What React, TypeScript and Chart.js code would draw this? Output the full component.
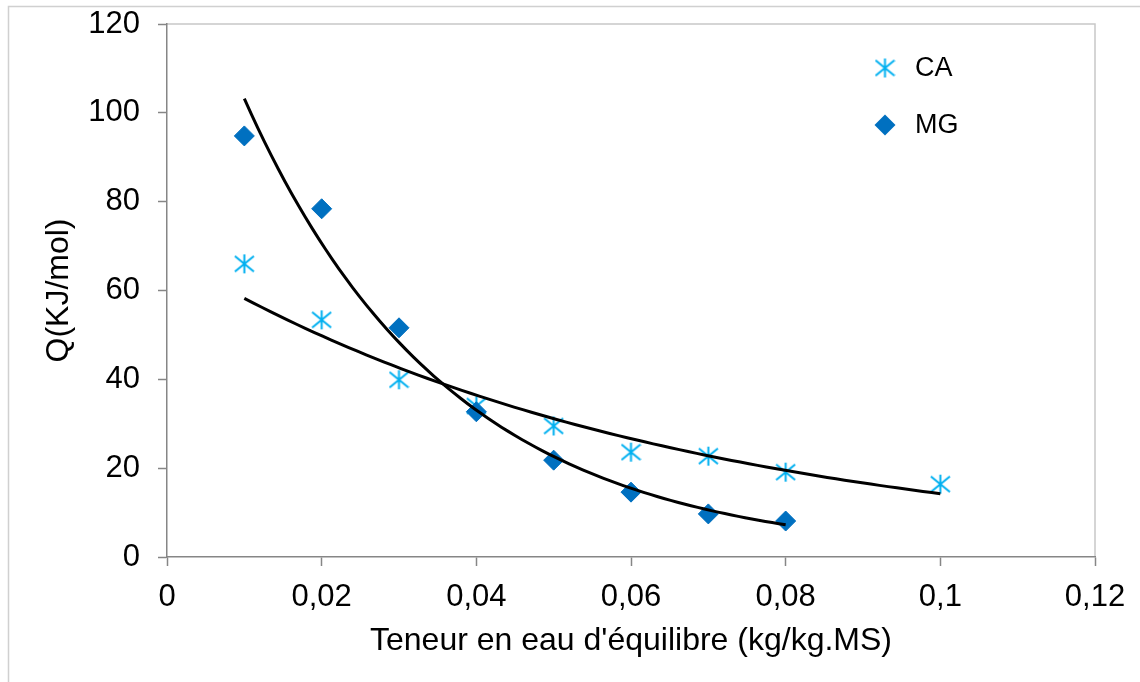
import React, { useEffect, useRef } from 'react';
import { Chart, registerables } from 'chart.js';

Chart.register(...registerables);

// ---- data ----
const caX = [0.01, 0.02, 0.03, 0.04, 0.05, 0.06, 0.07, 0.08, 0.1];
const caY = [66.0, 53.4, 39.9, 34.0, 29.5, 23.6, 22.7, 19.1, 16.4];
const mgX = [0.01, 0.02, 0.03, 0.04, 0.05, 0.06, 0.07, 0.08];
const mgY = [94.8, 78.4, 51.6, 32.7, 21.8, 14.6, 9.7, 8.1];
const seriesNames = ['CA', 'MG'];
const xTickLabels = ['0', '0,02', '0,04', '0,06', '0,08', '0,1', '0,12'];
const yTickLabels = ['0', '20', '40', '60', '80', '100', '120'];
const xTitle = "Teneur en eau d'équilibre (kg/kg.MS)";
const yTitle = 'Q(KJ/mol)';

const FONT = "'Liberation Sans', Arial, sans-serif";
const CA_COLOR = '#00B0F0';
const MG_COLOR = '#0070C0';

// Excel-style exponential trendline: least squares on ln(y)
function expFit(xs: number[], ys: number[]) {
  const n = xs.length;
  const ly = ys.map((v) => Math.log(v));
  const mx = xs.reduce((a, b) => a + b, 0) / n;
  const my = ly.reduce((a, b) => a + b, 0) / n;
  let sxx = 0, sxy = 0;
  for (let i = 0; i < n; i++) {
    sxx += (xs[i] - mx) ** 2;
    sxy += (xs[i] - mx) * (ly[i] - my);
  }
  const b = sxy / sxx;
  const a = Math.exp(my - b * mx);
  return { a, b };
}

function trendPoints(xs: number[], ys: number[]) {
  const { a, b } = expFit(xs, ys);
  const x0 = Math.min(...xs);
  const x1 = Math.max(...xs);
  const steps = 80;
  const pts: { x: number; y: number }[] = [];
  for (let i = 0; i <= steps; i++) {
    const x = x0 + ((x1 - x0) * i) / steps;
    pts.push({ x, y: a * Math.exp(b * x) });
  }
  return pts;
}

function makeStar(size: number, color: string) {
  const c = document.createElement('canvas');
  c.width = size;
  c.height = size;
  const ctx = c.getContext('2d')!;
  const m = size / 2;
  const r = size / 2 - 1;
  ctx.strokeStyle = color;
  ctx.lineWidth = 2;
  ctx.lineCap = 'butt';
  ctx.beginPath();
  ctx.moveTo(m, m - r);
  ctx.lineTo(m, m + r);
  ctx.moveTo(m - r, m - r * 0.82);
  ctx.lineTo(m + r, m + r * 0.82);
  ctx.moveTo(m + r, m - r * 0.82);
  ctx.lineTo(m - r, m + r * 0.82);
  ctx.stroke();
  return c;
}

export default function App() {
  const ref = useRef<HTMLCanvasElement | null>(null);

  useEffect(() => {
    const canvas = ref.current;
    if (!canvas) return;
    const star = makeStar(21, CA_COLOR);

    const framePlugin = {
      id: 'frame',
      beforeDraw(chart: any) {
        const ctx = chart.ctx;
        ctx.save();
        ctx.fillStyle = '#ffffff';
        ctx.fillRect(0, 0, chart.width, chart.height);
        ctx.strokeStyle = '#d0d0d0';
        ctx.lineWidth = 1.5;
        ctx.beginPath();
        ctx.moveTo(8.5, chart.height + 2);
        ctx.lineTo(8.5, 6.5);
        ctx.lineTo(chart.width + 2, 6.5);
        ctx.stroke();
        const a = chart.chartArea;
        ctx.strokeStyle = '#c8c8c8';
        ctx.lineWidth = 1.5;
        ctx.beginPath();
        ctx.moveTo(a.left, a.top);
        ctx.lineTo(a.right, a.top);
        ctx.lineTo(a.right, a.bottom);
        ctx.stroke();
        ctx.restore();
      },
      afterDraw(chart: any) {
        const ctx = chart.ctx;
        ctx.save();
        // legend
        const lx = 885;
        const ly = [68, 125];
        ctx.drawImage(star, lx - star.width / 2, ly[0] - star.height / 2);
        ctx.fillStyle = MG_COLOR;
        const r = 10.5;
        ctx.beginPath();
        ctx.moveTo(lx, ly[1] - r);
        ctx.lineTo(lx + r, ly[1]);
        ctx.lineTo(lx, ly[1] + r);
        ctx.lineTo(lx - r, ly[1]);
        ctx.closePath();
        ctx.fill();
        ctx.fillStyle = '#000000';
        ctx.font = `27px ${FONT}`;
        ctx.textBaseline = 'middle';
        ctx.textAlign = 'left';
        ctx.fillText(seriesNames[0], 915, ly[0] + 1);
        ctx.fillText(seriesNames[1], 915, ly[1] + 1);
        ctx.restore();
      },
    };

    const chart = new Chart(canvas, {
      type: 'scatter',
      data: {
        datasets: [
          {
            label: 'trend ' + seriesNames[0],
            data: trendPoints(caX, caY),
            showLine: true,
            borderColor: '#000000',
            borderWidth: 3,
            pointRadius: 0,
            tension: 0,
            order: 0,
          },
          {
            label: 'trend ' + seriesNames[1],
            data: trendPoints(mgX, mgY),
            showLine: true,
            borderColor: '#000000',
            borderWidth: 3,
            pointRadius: 0,
            tension: 0,
            order: 0,
          },
          {
            label: seriesNames[1],
            data: mgX.map((x, i) => ({ x, y: mgY[i] })),
            pointStyle: 'rectRot',
            pointRadius: 10,
            backgroundColor: MG_COLOR,
            borderColor: MG_COLOR,
            borderWidth: 1,
            order: 1,
          },
          {
            label: seriesNames[0],
            data: caX.map((x, i) => ({ x, y: caY[i] })),
            pointStyle: star as any,
            pointRadius: 10,
            backgroundColor: CA_COLOR,
            borderColor: CA_COLOR,
            order: 2,
          },
        ],
      },
      options: {
        responsive: false,
        animation: false,
        devicePixelRatio: 1,
        layout: { padding: { left: 0, top: 24, right: 45, bottom: 0 } },
        plugins: {
          legend: { display: false },
          tooltip: { enabled: false },
        },
        scales: {
          x: {
            type: 'linear',
            min: 0,
            max: 0.12,
            afterFit: (s: any) => {
              s.height = 125;
              s.paddingLeft = 0;
              s.paddingRight = 0;
            },
            border: { display: true, color: '#868686', width: 1.5 },
            grid: {
              drawOnChartArea: false,
              drawTicks: true,
              tickLength: 9,
              tickColor: '#868686',
              tickWidth: 1.5,
            },
            ticks: {
              stepSize: 0.02,
              autoSkip: false,
              maxRotation: 0,
              padding: 13,
              color: '#000000',
              font: { family: FONT, size: 31 },
              callback: (_v: any, i: number) => xTickLabels[i],
            },
            title: {
              display: true,
              text: xTitle,
              color: '#000000',
              font: { family: FONT, size: 32 },
              padding: { top: 0, bottom: 22 },
            },
          },
          y: {
            type: 'linear',
            min: 0,
            max: 120,
            afterFit: (s: any) => {
              s.width = 167;
              s.paddingTop = 0;
              s.paddingBottom = 0;
            },
            border: { display: true, color: '#868686', width: 1.5 },
            grid: {
              drawOnChartArea: false,
              drawTicks: true,
              tickLength: 9,
              tickColor: '#868686',
              tickWidth: 1.5,
            },
            ticks: {
              stepSize: 20,
              autoSkip: false,
              padding: 18,
              color: '#000000',
              font: { family: FONT, size: 31 },
              callback: (_v: any, i: number) => yTickLabels[i],
            },
            title: {
              display: true,
              text: yTitle,
              color: '#000000',
              font: { family: FONT, size: 32 },
              padding: { top: 40, bottom: 0 },
            },
          },
        },
      },
      plugins: [framePlugin],
    });

    return () => chart.destroy();
  }, []);

  return (
    <div style={{ position: 'fixed', left: 0, top: 0, width: 1140, height: 682, background: '#fff' }}>
      <canvas ref={ref} width={1140} height={682} style={{ display: 'block', width: 1140, height: 682 }} />
    </div>
  );
}
